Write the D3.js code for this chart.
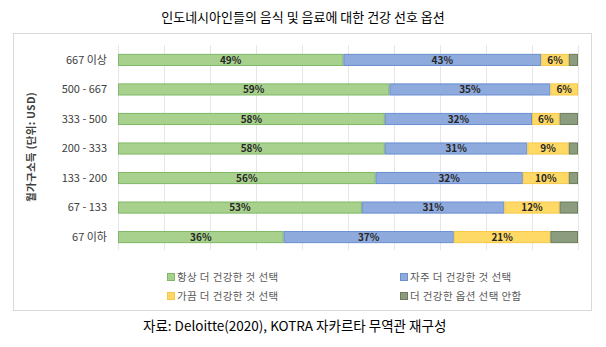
<!DOCTYPE html>
<html><head><meta charset="utf-8">
<script src="https://cdn.jsdelivr.net/npm/d3@7"></script>
<style>
body{margin:0;background:#fff;}
text{font-family:"Noto Sans CJK KR","Noto Sans",sans-serif;}
</style></head>
<body>
<svg id="c" width="606" height="347"></svg>
<script>
const title = "인도네시아인들의 음식 및 음료에 대한 건강 선호 옵션";
const source = "자료: Deloitte(2020), KOTRA 자카르타 무역관 재구성";
const yTitle = "월가구소득 (단위: USD)";
const categories = ["667 이상","500 - 667","333 - 500","200 - 333","133 - 200","67 - 133","67 이하"];
const seriesNames = ["항상 더 건강한 것 선택","자주 더 건강한 것 선택","가끔 더 건강한 것 선택","더 건강한 옵션 선택 안함"];
const always    = [49,59,58,58,56,53,36];
const often     = [43,35,32,31,32,31,37];
const sometimes = [6,6,6,9,10,12,21];
const never     = [2,0,4,2,2,4,6];
const xTicks = [0,10,20,30,40,50,60,70,80,90,100];

const fills = ["#a9d18e","#8faadc","#ffd966","#8c9c7e"];
const strokes = ["#7fb866","#6a8fd2","#f5c84a","#6b7d5d"];

const svg = d3.select("#c");
svg.append("rect").attr("x",13.5).attr("y",33.5).attr("width",578).attr("height",277)
  .attr("fill","#fff").attr("stroke","#d9d9d9");

svg.append("text").attr("x",303).attr("y",22).attr("text-anchor","middle")
  .attr("font-size",13).attr("fill","#000").text(title);

const x = d3.scaleLinear().domain([0,100]).range([118,578]);
const y = d3.scaleBand().domain(categories).range([45,252]).paddingInner(0.59).paddingOuter(0.3);

svg.append("g").selectAll("line").data(xTicks).join("line")
  .attr("x1",d=>x(d)+0.5).attr("x2",d=>x(d)+0.5).attr("y1",45).attr("y2",250)
  .attr("stroke","#e6e6e6").attr("stroke-width",1);

svg.append("g").selectAll("text").data(categories).join("text")
  .attr("x",107).attr("y",d=>y(d)+y.bandwidth()/2).attr("dy","0.35em")
  .attr("text-anchor","end").attr("font-size",11).attr("fill","#404040").text(d=>d);

svg.append("text").attr("transform","translate(35,147) rotate(-90)")
  .attr("text-anchor","middle").attr("font-size",10.5).attr("font-weight","bold")
  .attr("letter-spacing",0.3).attr("fill","#404040").text(yTitle);

const stackData = categories.map((c,i)=>({cat:c, s0:always[i], s1:often[i], s2:sometimes[i], s3:never[i]}));
const stack = d3.stack().keys(["s0","s1","s2","s3"])(stackData);

stack.forEach((layer,k)=>{
  const g = svg.append("g");
  g.selectAll("rect").data(layer).join("rect")
    .attr("x",d=>x(d[0])+0.5).attr("y",d=>y(d.data.cat)+0.5)
    .attr("width",d=>Math.max(0,x(d[1])-x(d[0])-1)).attr("height",y.bandwidth()-1)
    .attr("fill",fills[k]).attr("stroke",strokes[k]).attr("stroke-width",1)
    .attr("display",d=>d[1]-d[0]>0?null:"none");
  if(k<3){
    g.selectAll("text").data(layer).join("text")
      .attr("x",d=>(x(d[0])+x(d[1]))/2).attr("y",d=>y(d.data.cat)+y.bandwidth()/2)
      .attr("dy","0.36em").attr("text-anchor","middle").attr("font-size",10)
      .attr("font-weight","bold").attr("fill","#262626")
      .text(d=>(d[1]-d[0])+"%");
  }
});

const legPos = [[167,277],[400,277],[167,296],[400,296]];
seriesNames.forEach((n,i)=>{
  const g = svg.append("g").attr("transform",`translate(${legPos[i][0]},${legPos[i][1]})`);
  g.append("rect").attr("x",0.5).attr("y",-3.5).attr("width",7).attr("height",7)
    .attr("fill",fills[i]).attr("stroke",strokes[i]);
  g.append("text").attr("x",10).attr("y",0).attr("dy","0.35em").attr("font-size",10.5)
    .attr("letter-spacing",0.4).attr("fill","#595959").text(n);
});

svg.append("text").attr("x",143).attr("y",326).attr("dy","0.35em")
  .attr("font-size",13.5).attr("fill","#000").text(source);
</script>
</body></html>
